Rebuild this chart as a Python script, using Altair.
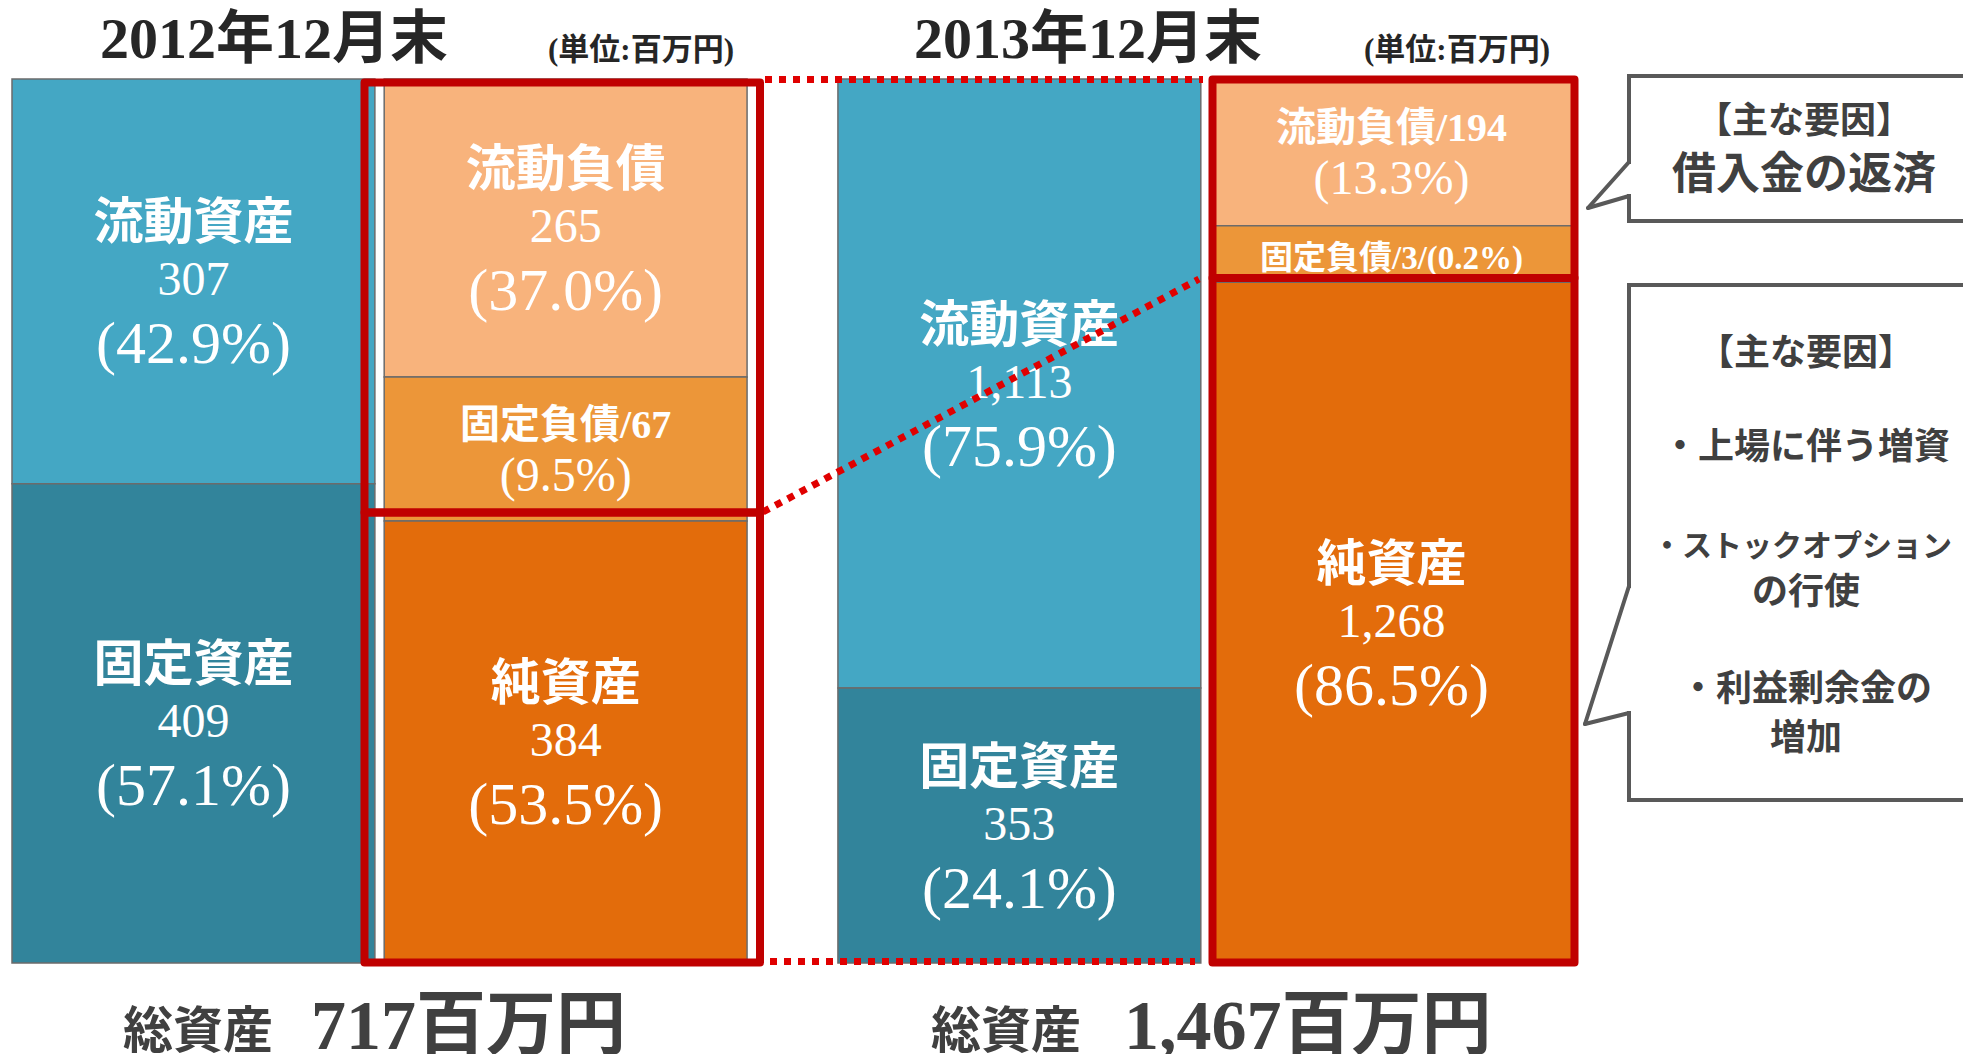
import altair as alt
import pandas as pd

# ---------------- data ----------------
years = ["2012年12月末", "2013年12月末"]
sides = ["資産", "負債・純資産"]
items = ["流動資産", "固定資産", "流動負債", "固定負債", "純資産"]
item_colors = ["#44A7C4", "#32849B", "#F8B37C", "#EC9639", "#E36C0B"]

seg_year = [years[0]] * 5 + [years[1]] * 5
seg_side = [sides[0], sides[0], sides[1], sides[1], sides[1]] * 2
seg_item = items * 2
seg_value = [307, 409, 265, 67, 384, 1113, 353, 194, 3, 1268]
seg_pct = [42.9, 57.1, 37.0, 9.5, 53.5, 75.9, 24.1, 13.3, 0.2, 86.5]
# segment heights as drawn in the original slide (% of column; the slide is not to scale)
seg_drawn = [45.8, 54.2, 33.7, 16.3, 50.0, 68.9, 31.1, 16.6, 6.4, 77.0]

total_assets = [717, 1467]
unit_label = "(単位:百万円)"
total_label = "総資産"
callout1 = ["【主な要因】", "借入金の返済"]
callout2 = ["【主な要因】", "・上場に伴う増資", "・ストックオプション", "の行使", "・利益剰余金の", "増加"]

# ---------------- tables ----------------
df = pd.DataFrame({
    "year": seg_year, "side": seg_side, "item": seg_item,
    "value": seg_value, "pct": seg_pct, "drawn": seg_drawn,
})
df["end"] = df.groupby(["year", "side"])["drawn"].cumsum()
df["start"] = df["end"] - df["drawn"]

Y0, Y1 = 71, 955
PX = (Y1 - Y0) / 100.0

rows = []
for r in df.itertuples():
    mid = (r.start + r.end) / 2
    v = f"{r.value:,}"
    p = f"({r.pct:.1f}%)"
    if r.drawn >= 20:
        lines = [(r.item, "bold", 50, -57), (v, "normal", 48, 0), (p, "normal", 60, 64)]
    elif r.drawn >= 10:
        lines = [(f"{r.item}/{v}", "bold", 40, -23), (p, "normal", 48, 28)]
    else:
        lines = [(f"{r.item}/{v}/{p}", "bold", 33, 5)]
    for t, w, fs, dy in lines:
        rows.append(dict(year=r.year, side=r.side, text=t, weight=w, fs=fs, ty=mid + dy / PX))
lab = pd.DataFrame(rows)

SERIF = "'Liberation Serif', 'Noto Sans CJK JP'"
SANS = "'Noto Sans CJK JP'"

xs = alt.Scale(domain=years, paddingInner=0.11, paddingOuter=0)
xo = alt.Scale(domain=sides, paddingInner=0.025, paddingOuter=0)
ys = alt.Scale(domain=[0, 100], range=[Y0, Y1], nice=False, zero=False)

bars = alt.Chart(df).mark_bar(stroke="#6B6B6B", strokeWidth=1.5).encode(
    x=alt.X("year:N", scale=xs, axis=None),
    xOffset=alt.XOffset("side:N", scale=xo),
    y=alt.Y("start:Q", scale=ys, axis=None),
    y2="end:Q",
    color=alt.Color("item:N", scale=alt.Scale(domain=items, range=item_colors), legend=None),
)


def label_layer(weight):
    return alt.Chart(lab[lab["weight"] == weight]).mark_text(
        font=SERIF, fontWeight=weight, color="white", baseline="middle", align="center"
    ).encode(
        x=alt.X("year:N", scale=xs, axis=None),
        xOffset=alt.XOffset("side:N", scale=xo),
        y=alt.Y("ty:Q", scale=ys, axis=None),
        text="text:N",
        size=alt.Size("fs:Q", scale=None, legend=None),
    )


one = pd.DataFrame({"k": [0]})


def text_at(txt, x, y, size, color, font, weight="bold", align="center"):
    return alt.Chart(one).mark_text(
        text=txt, fontSize=size, color=color, font=font, fontWeight=weight,
        align=align, baseline="middle",
    ).encode(x=alt.value(x), y=alt.value(y))


def seg(x1, y1, x2, y2, color, width, dash=None, cap="butt"):
    kw = dict(color=color, strokeWidth=width, strokeCap=cap)
    if dash:
        kw["strokeDash"] = dash
    return alt.Chart(one).mark_rule(**kw).encode(
        x=alt.value(x1), y=alt.value(y1), x2=alt.value(x2), y2=alt.value(y2))


def frame(x1, y1, x2, y2, stroke, sw, fill=None):
    if fill is None:
        m = alt.Chart(one).mark_rect(filled=False, stroke=stroke, strokeWidth=sw, strokeJoin="round")
    else:
        m = alt.Chart(one).mark_rect(fill=fill, stroke=stroke, strokeWidth=sw, strokeJoin="miter")
    return m.encode(x=alt.value(x1), y=alt.value(y1), x2=alt.value(x2), y2=alt.value(y2))


layers = [bars, label_layer("bold"), label_layer("normal")]

# dotted connectors
DOT = "#E00000"
layers += [
    seg(753, 71.5, 1191, 71.5, DOT, 7, [7, 7]),
    seg(758, 953.5, 1183, 953.5, DOT, 7, [7, 7]),
    seg(751, 504, 1187, 271, DOT, 7, [7, 7]),
]

# red highlight frames
RED = "#C00000"
layers += [
    frame(352.5, 74.5, 748, 504.5, RED, 8),
    frame(352.5, 504.5, 748, 954.5, RED, 8),
    frame(1200.5, 71.5, 1562.5, 270, RED, 8),
    frame(1200.5, 270, 1562.5, 954.5, RED, 8),
]

# callouts
GRAY = "#595959"
layers += [
    frame(1617, 68, 2010, 213, GRAY, 4, fill="white"),
    seg(1617, 156, 1617, 186, "white", 7),
    seg(1617, 154, 1576, 200, GRAY, 4, cap="round"),
    seg(1576, 200, 1617, 188, GRAY, 4, cap="round"),
    frame(1617, 277, 2010, 792, GRAY, 4, fill="white"),
    seg(1617, 580, 1617, 703, "white", 7),
    seg(1617, 578, 1573, 716, GRAY, 4, cap="round"),
    seg(1573, 716, 1617, 705, GRAY, 4, cap="round"),
]
TXT = "#404040"
layers += [
    text_at(callout1[0], 1792, 114, 36, TXT, SANS),
    text_at(callout1[1], 1792, 168, 44, TXT, SANS),
]
for t, yy in zip(callout2, [346, 440, 539, 585, 682, 731]):
    if len(t) >= 10:
        layers.append(text_at(t, 1790, yy, 30, TXT, SANS))
    else:
        layers.append(text_at(t, 1794, yy, 36, TXT, SANS))

# titles
layers += [
    text_at(years[0], 262, 33, 58, "#262626", SERIF),
    text_at(unit_label, 629, 43, 31, "#262626", SERIF),
    text_at(years[1], 1076, 33, 58, "#262626", SERIF),
    text_at(unit_label, 1445, 43, 31, "#262626", SERIF),
]

# totals
layers += [
    text_at(total_label, 261, 1025, 50, TXT, SERIF, align="right"),
    text_at(f"{total_assets[0]:,}百万円", 299, 1020, 70, TXT, SERIF, align="left"),
    text_at(total_label, 1069, 1025, 50, TXT, SERIF, align="right"),
    text_at(f"{total_assets[1]:,}百万円", 1112, 1020, 70, TXT, SERIF, align="left"),
]

chart = alt.layer(*layers).properties(
    width=1561, height=1046,
    padding={"left": 4, "top": 0, "right": 390, "bottom": 0},
    autosize=alt.AutoSizeParams(type="none"),
).configure_view(stroke=None)

chart.save("out.html", embed_options={"renderer": "svg", "actions": False})
